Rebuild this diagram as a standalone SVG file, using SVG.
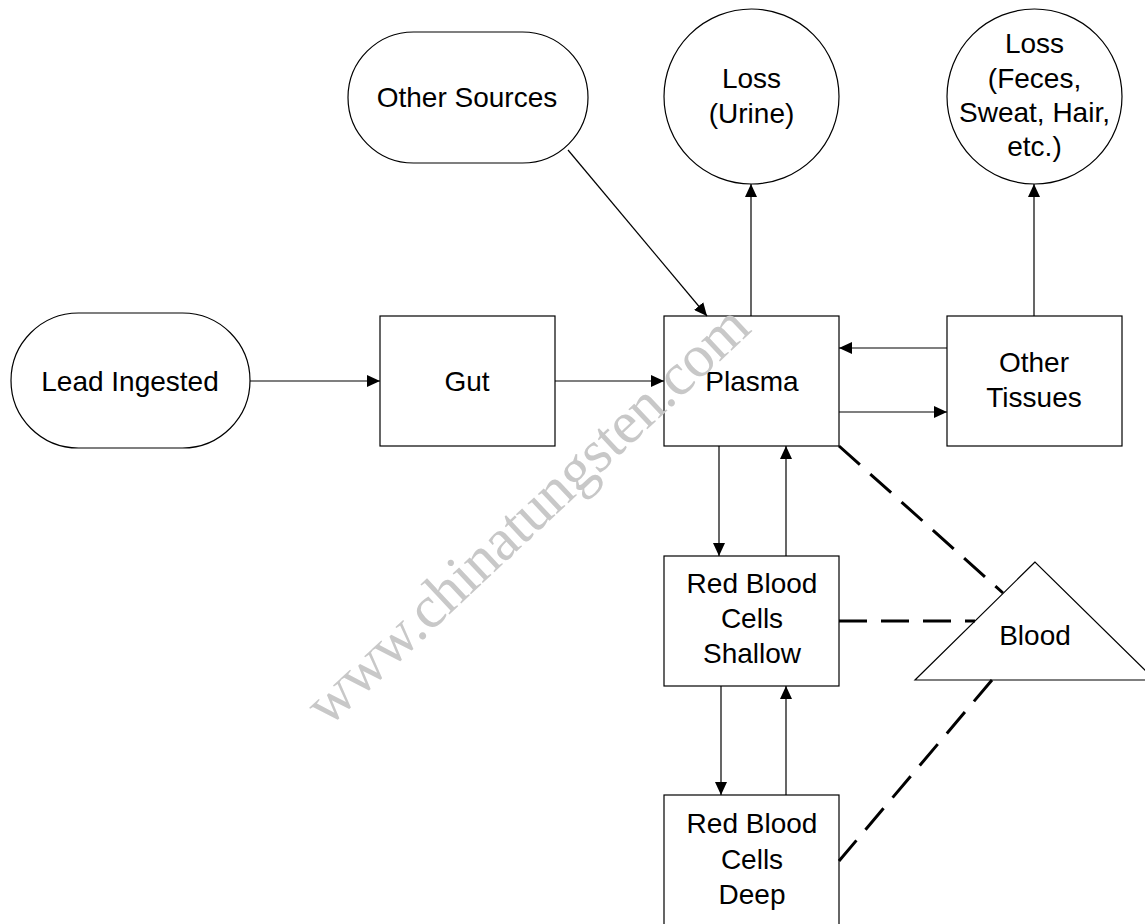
<svg xmlns="http://www.w3.org/2000/svg" width="1145" height="924" viewBox="0 0 1145 924">
<style>
.shape{fill:#fff;stroke:#000;stroke-width:1.2}
.lbl{font-family:"Liberation Sans",Arial,sans-serif;font-size:28px;fill:#000;text-anchor:middle}
.arr{stroke:#000;stroke-width:1.2;fill:none;marker-end:url(#ah)}
.dash{stroke:#000;stroke-width:3;fill:none;stroke-dasharray:28 14}
.wm{font-family:"Liberation Serif","Times New Roman",serif;font-size:60px;fill:#c8c8c8}
</style>
<defs>
<marker id="ah" markerUnits="userSpaceOnUse" markerWidth="14" markerHeight="12" refX="13" refY="6" orient="auto">
<path d="M0,0 L13,6 L0,12 Z" fill="#000"/>
</marker>
</defs>
<rect width="1145" height="924" fill="#fff"/>
<g id="lead-ingested">
<rect class="shape" x="11" y="313" width="239" height="135" rx="67.5" ry="67.5"/>
<text class="lbl" x="130" y="391">Lead Ingested</text>
</g>
<g id="gut">
<rect class="shape" x="380" y="316" width="175" height="130"/>
<text class="lbl" x="467" y="391">Gut</text>
</g>
<g id="plasma">
<rect class="shape" x="664" y="316" width="175" height="130"/>
<text class="lbl" x="752" y="391">Plasma</text>
</g>
<g id="other-tissues">
<rect class="shape" x="947" y="316" width="175" height="130"/>
<text class="lbl" x="1034" y="372">Other</text>
<text class="lbl" x="1034" y="407">Tissues</text>
</g>
<g id="other-sources">
<rect class="shape" x="348" y="32" width="240" height="131" rx="65.5" ry="65.5"/>
<text class="lbl" x="467" y="107">Other Sources</text>
</g>
<g id="loss-urine">
<circle class="shape" cx="751.5" cy="96.5" r="87.5"/>
<text class="lbl" x="751.5" y="88">Loss</text>
<text class="lbl" x="751.5" y="123">(Urine)</text>
</g>
<g id="loss-feces">
<circle class="shape" cx="1034.5" cy="96.5" r="87.5"/>
<text class="lbl" x="1034.5" y="53">Loss</text>
<text class="lbl" x="1034.5" y="88">(Feces,</text>
<text class="lbl" x="1034.5" y="122">Sweat, Hair,</text>
<text class="lbl" x="1034.5" y="156">etc.)</text>
</g>
<g id="rbc-shallow">
<rect class="shape" x="664" y="556" width="175" height="130"/>
<text class="lbl" x="752" y="593">Red Blood</text>
<text class="lbl" x="752" y="628">Cells</text>
<text class="lbl" x="752" y="663">Shallow</text>
</g>
<g id="rbc-deep">
<rect class="shape" x="664" y="795" width="175" height="130"/>
<text class="lbl" x="752" y="833">Red Blood</text>
<text class="lbl" x="752" y="869">Cells</text>
<text class="lbl" x="752" y="904">Deep</text>
</g>
<g id="blood">
<polygon class="shape" points="1035,562 915,680 1155,680"/>
<text class="lbl" x="1035" y="645">Blood</text>
</g>
<g id="connectors">
<line class="arr" x1="250" y1="381" x2="380" y2="381"/>
<line class="arr" x1="555" y1="381" x2="664" y2="381"/>
<line class="arr" x1="568" y1="150" x2="707" y2="316"/>
<line class="arr" x1="751" y1="316" x2="751" y2="184"/>
<line class="arr" x1="1034" y1="316" x2="1034" y2="184"/>
<line class="arr" x1="947" y1="348" x2="839" y2="348"/>
<line class="arr" x1="839" y1="412" x2="947" y2="412"/>
<line class="arr" x1="719" y1="446" x2="719" y2="556"/>
<line class="arr" x1="786" y1="556" x2="786" y2="446"/>
<line class="arr" x1="721" y1="686" x2="721" y2="795"/>
<line class="arr" x1="786" y1="795" x2="786" y2="686"/>
<line class="dash" x1="839" y1="446" x2="1003" y2="593"/>
<line class="dash" x1="839" y1="621" x2="975" y2="621"/>
<line class="dash" x1="992" y1="680" x2="839" y2="861"/>
</g>
<text class="wm" x="328" y="728" transform="rotate(-43.1 328 728)" textLength="582">www.chinatungsten.com</text>
</svg>
